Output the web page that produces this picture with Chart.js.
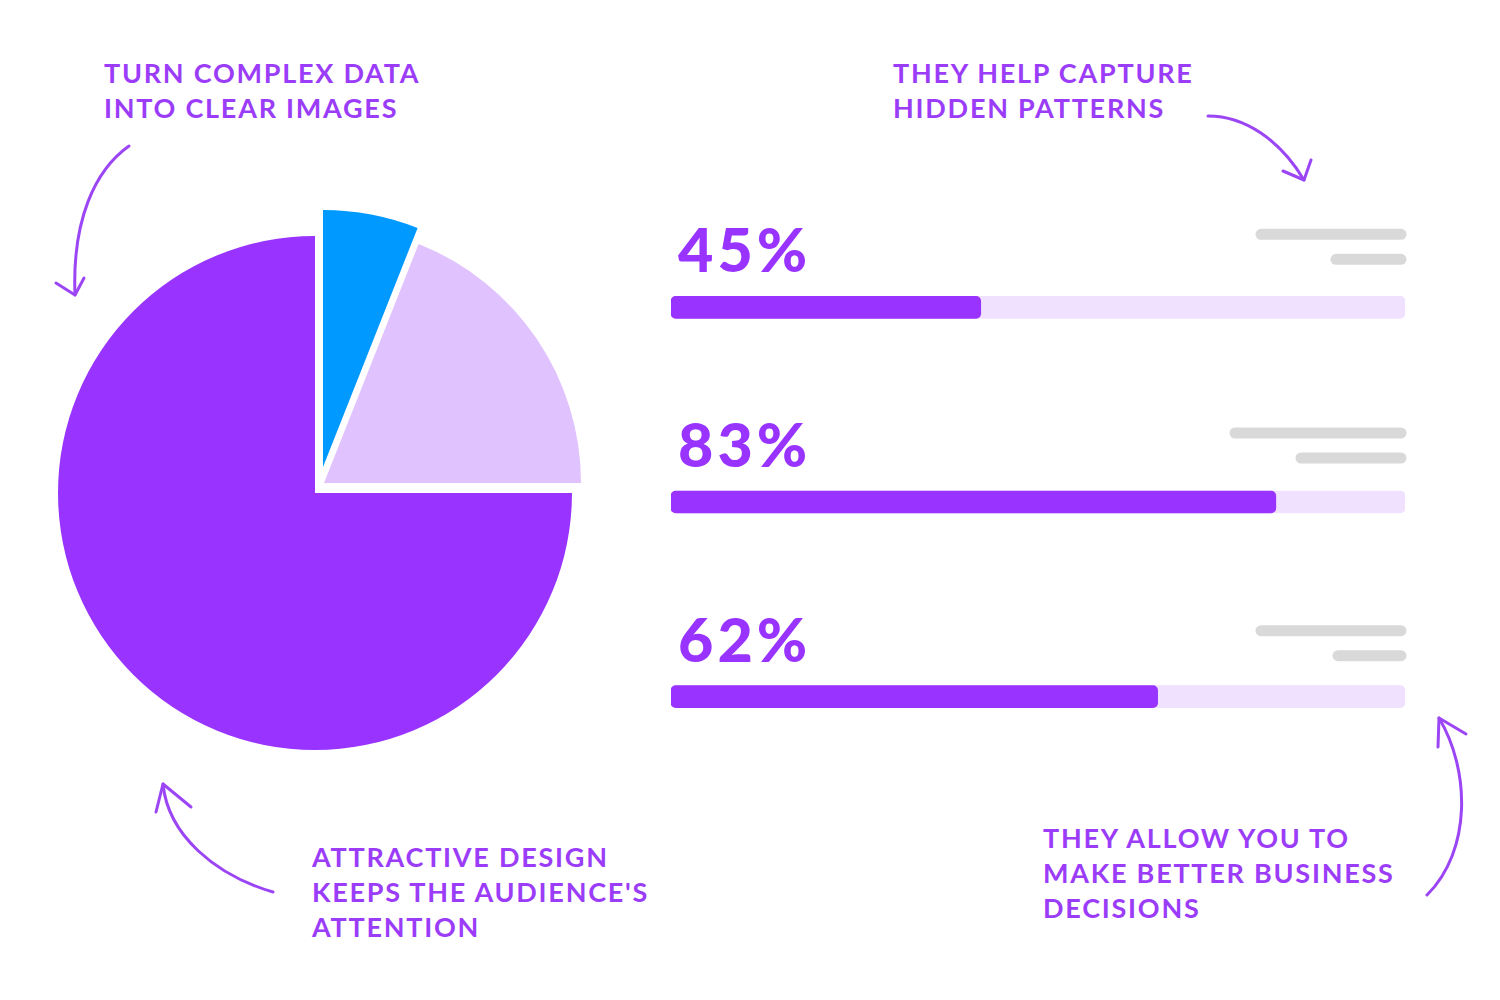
<!DOCTYPE html>
<html>
<head>
<meta charset="utf-8">
<script src="https://cdn.jsdelivr.net/npm/chart.js@4.4.0/dist/chart.umd.min.js"></script>
<style>
  html, body { margin:0; padding:0; background:#ffffff; }
  body { width:1500px; height:1000px; position:relative; overflow:hidden; font-family: Lato, "Open Sans", sans-serif; }
  .note { position:absolute; color:#9b3cf9; font-family: Lato, sans-serif; font-weight:700; font-size:27px; line-height:35px; letter-spacing:1.75px; white-space:nowrap; }
  #pieBox { position:absolute; left:28px; top:206px; width:574px; height:574px; }
  #barBox { position:absolute; left:640px; top:190px; width:800px; height:640px; }
  svg { position:absolute; left:0; top:0; }
</style>
</head>
<body>
<div class="note" style="left:104px; top:55px;">TURN COMPLEX DATA<br>INTO CLEAR IMAGES</div>
<div class="note" style="left:893px; top:55px;">THEY HELP CAPTURE<br>HIDDEN PATTERNS</div>
<div class="note" style="left:312px; top:839px;">ATTRACTIVE DESIGN<br>KEEPS THE AUDIENCE'S<br>ATTENTION</div>
<div class="note" style="left:1043px; top:820px;">THEY ALLOW YOU TO<br>MAKE BETTER BUSINESS<br>DECISIONS</div>

<div id="pieBox"><canvas id="pie"></canvas></div>
<div id="barBox"><canvas id="bars"></canvas></div>

<svg width="1500" height="1000" viewBox="0 0 1500 1000" fill="none" stroke="#9b45f5" stroke-width="3" stroke-linecap="round" stroke-linejoin="round">
  <path d="M129,146 C95,170 72,220 75,295"/>
  <path d="M56,283 L75,295 L84,278"/>
  <path d="M1208,116 C1245,116 1280,140 1304,180"/>
  <path d="M1283,171 L1304,180 L1311,160"/>
  <path d="M273,892 C215,875 168,835 163,784"/>
  <path d="M156,812 L163,784 L191,807"/>
  <path d="M1427,895 C1472,850 1470,770 1439,718"/>
  <path d="M1438,747 L1439,718 L1466,734"/>
</svg>

<script>
// ---- data ----
const pieLabels = ["Blue share", "Light share", "Main share"];
const pieValues = [6, 19, 75];

const barCategories = ["Row 1", "Row 2", "Row 3"];
const barLabels = ["45%", "83%", "62%"];
const barValues = [42.2, 82.4, 66.3];
const trackValues = [100, 100, 100];

// ---- styling ----
const PURPLE = "#9933ff";
const pieColors = ["#0099ff", "#e0c3fe", PURPLE];
const sliceShiftX = [8, 9, 0];
const sliceShiftY = [-26, -10, 0];
const grayLineWidths = [[151, 76], [177, 111], [151, 74]];
const grayLineRise = [73, 69, 66];

const sliceShift = {
  id: "sliceShift",
  afterDatasetUpdate(chart, args) {
    const meta = chart.getDatasetMeta(args.index);
    meta.data.forEach((arc, i) => {
      arc.x += sliceShiftX[i] || 0;
      arc.y += sliceShiftY[i] || 0;
    });
  }
};

new Chart(document.getElementById("pie"), {
  type: "pie",
  data: {
    labels: pieLabels,
    datasets: [{ data: pieValues, backgroundColor: pieColors, borderWidth: 0, hoverOffset: 0 }]
  },
  options: {
    responsive: true,
    maintainAspectRatio: false,
    animation: false,
    events: [],
    layout: { padding: 30 },
    plugins: { legend: { display: false }, tooltip: { enabled: false } }
  },
  plugins: [sliceShift]
});

const barDecor = {
  id: "barDecor",
  afterDatasetsDraw(chart) {
    const ctx = chart.ctx;
    const area = chart.chartArea;
    const meta = chart.getDatasetMeta(0);
    meta.data.forEach((bar, i) => {
      const top = bar.y - bar.height / 2;
      // percent label
      ctx.save();
      ctx.fillStyle = PURPLE;
      ctx.font = "900 61px Lato";
      if ("letterSpacing" in ctx) ctx.letterSpacing = "4px";
      ctx.textBaseline = "alphabetic";
      ctx.textAlign = "left";
      ctx.fillText(barLabels[i], area.left + 7, top - 24);
      // placeholder grey lines
      ctx.strokeStyle = "#d9d9d9";
      ctx.lineWidth = 11;
      ctx.lineCap = "round";
      const right = area.right + 1.5;
      const y1 = bar.y - grayLineRise[i];
      const ys = [y1, y1 + 25];
      grayLineWidths[i].forEach((w, k) => {
        ctx.beginPath();
        ctx.moveTo(right - w + 5.5, ys[k]);
        ctx.lineTo(right - 5.5, ys[k]);
        ctx.stroke();
      });
      ctx.restore();
    });
  }
};

new Chart(document.getElementById("bars"), {
  type: "bar",
  data: {
    labels: barCategories,
    datasets: [
      { data: barValues, backgroundColor: PURPLE, barThickness: 22, borderRadius: 5, borderSkipped: false, grouped: false },
      { data: trackValues, backgroundColor: "#f0e1fe", barThickness: 22, borderRadius: 5, borderSkipped: false, grouped: false }
    ]
  },
  options: {
    indexAxis: "y",
    responsive: true,
    maintainAspectRatio: false,
    animation: false,
    events: [],
    layout: { padding: { left: 31, right: 35, top: 20, bottom: 36 } },
    scales: {
      x: { display: false, min: 0, max: 100 },
      y: { display: false }
    },
    plugins: { legend: { display: false }, tooltip: { enabled: false } }
  },
  plugins: [barDecor]
});
</script>
</body>
</html>
